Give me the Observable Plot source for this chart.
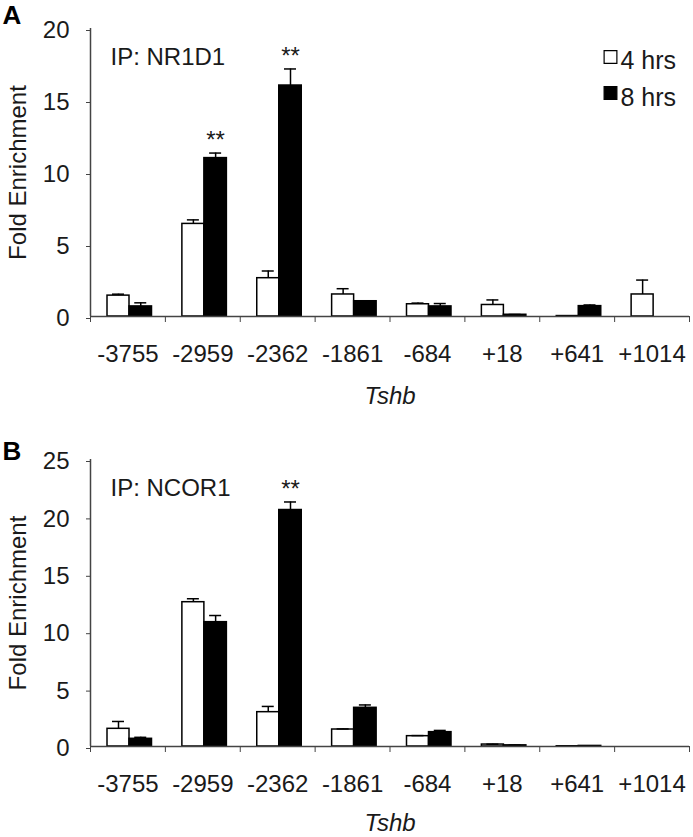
<!DOCTYPE html>
<html><head><meta charset="utf-8">
<script src="https://cdn.jsdelivr.net/npm/d3@7"></script>
<script src="https://cdn.jsdelivr.net/npm/@observablehq/plot@0.6"></script>
<style>
html,body{margin:0;padding:0;background:#fff;}
#chart svg{display:block;}
</style></head><body><div id="chart"></div>
<script>
// Tshb promoter positions
const categories = ["-3755","-2959","-2362","-1861","-684","+18","+641","+1014"];
const seriesNames = ["4 hrs","8 hrs"];
// Panel A: IP NR1D1
const a4 = [1.45, 6.43, 2.66, 1.53, 0.85, 0.80, 0.03, 1.53];
const a4err = [0.10, 0.28, 0.50, 0.40, 0.08, 0.35, 0.00, 1.00];
const a8 = [0.70, 11.0, 16.04, 1.06, 0.70, 0.12, 0.72, 0.00];
const a8err = [0.25, 0.35, 1.15, 0.03, 0.20, 0.02, 0.08, 0.00];
const aSig = ["-2959","-2362"];
const aTicks = [0, 5, 10, 15, 20];
// Panel B: IP NCOR1
const b4 = [1.54, 12.57, 2.99, 1.48, 0.90, 0.17, 0.02, 0.00];
const b4err = [0.64, 0.30, 0.50, 0.05, 0.05, 0.03, 0.00, 0.00];
const b8 = [0.67, 10.83, 20.6, 3.37, 1.25, 0.10, 0.05, 0.00];
const b8err = [0.13, 0.58, 0.70, 0.25, 0.15, 0.02, 0.00, 0.00];
const bSig = ["-2362"];
const bTicks = [0, 5, 10, 15, 20, 25];

const W = 693, ML = 90, MR = 4;
const BW = (W - ML - MR) / categories.length;
const FONT = "'Liberation Sans', Arial, Helvetica, sans-serif";
const INK = "#1a1a1a", AX = "#444";

function panel({letter, ip, v4, e4, v8, e8, sig, ticks, height, marginTop, marginBottom, legend, geneDy}) {
  const rows4 = categories.map((c, i) => ({i, cat: c, v: v4[i], e: e4[i]}));
  const rows8 = categories.map((c, i) => ({i, cat: c, v: v8[i], e: e8[i]}));
  const sigRows = rows8.filter(d => sig.includes(d.cat));
  const wL = 17, wR = 39, bL = 39, bR = 61.5, cap = 6;
  const wC = (wL + wR) / 2, bC = (bL + bR) / 2;
  const marks = [
    Plot.rectY(rows4, {x1: "i", x2: d => d.i + 1, y: "v", fill: "white", stroke: "black", strokeWidth: 1.5, insetLeft: wL, insetRight: BW - wR}),
    Plot.rectY(rows8, {x1: "i", x2: d => d.i + 1, y: "v", fill: "black", stroke: "black", strokeWidth: 1.5, insetLeft: bL, insetRight: BW - bR}),
    Plot.ruleX(rows4.filter(d => d.e > 0), {x: "i", y1: "v", y2: d => d.v + d.e, dx: wC, stroke: "black", strokeWidth: 1.5}),
    Plot.ruleY(rows4.filter(d => d.e > 0), {x1: "i", x2: d => d.i + 1, y: d => d.v + d.e, insetLeft: wC - cap, insetRight: BW - wC - cap, stroke: "black", strokeWidth: 1.5}),
    Plot.ruleX(rows8.filter(d => d.e > 0), {x: "i", y1: "v", y2: d => d.v + d.e, dx: bC, stroke: "black", strokeWidth: 1.5}),
    Plot.ruleY(rows8.filter(d => d.e > 0), {x1: "i", x2: d => d.i + 1, y: d => d.v + d.e, insetLeft: bC - cap, insetRight: BW - bC - cap, stroke: "black", strokeWidth: 1.5}),
    Plot.text(sigRows, {x: "i", y: d => d.v + d.e, dx: bC, dy: -5, text: () => "**", lineAnchor: "bottom", fontSize: 24, fill: INK}),
    Plot.ruleX([0], {stroke: AX, strokeWidth: 1.5}),
    Plot.ruleY([0], {stroke: AX, strokeWidth: 1.5}),
    Plot.axisY({ticks, tickSize: 4, tickPadding: 17, label: null, fontSize: 24, stroke: AX, fill: INK, dy: 2}),
    Plot.axisX({ticks: d3.range(categories.length + 1), tickSize: 6, tickFormat: () => "", label: null, stroke: AX}),
    Plot.axisX({ticks: d3.range(categories.length).map(i => i + 0.5), tickFormat: v => categories[Math.floor(v)], tickSize: 0, tickPadding: 28, label: null, fontSize: 24, fill: INK}),
    Plot.text(["Fold Enrichment"], {frameAnchor: "left", rotate: -90, dx: -72, lineAnchor: "middle", textAnchor: "middle", fontSize: 24, fill: INK}),
    Plot.text(["Tshb"], {frameAnchor: "bottom", dy: geneDy, lineAnchor: "bottom", textAnchor: "middle", fontSize: 24, fontStyle: "italic", fill: INK}),
    Plot.text([letter], {frameAnchor: "top-left", dx: 2 - ML, dy: letter === "A" ? -23 : -18, lineAnchor: "top", textAnchor: "start", fontSize: 26, fontWeight: "bold", fill: "black"}),
    Plot.text([ip], {frameAnchor: "top-left", dx: 20, dy: 36, lineAnchor: "bottom", textAnchor: "start", fontSize: 24, fill: INK})
  ];
  if (legend) {
    marks.push(
      Plot.dot([seriesNames[0]], {frameAnchor: "top-left", dx: 520, dy: 28.5, symbol: "square", r: 7.2, fill: "white", stroke: "black", strokeWidth: 1.2}),
      Plot.dot([seriesNames[1]], {frameAnchor: "top-left", dx: 520, dy: 64.5, symbol: "square", r: 7.2, fill: "black", stroke: "black", strokeWidth: 1.2}),
      Plot.text([seriesNames[0]], {frameAnchor: "top-left", dx: 530, dy: 40, lineAnchor: "bottom", textAnchor: "start", fontSize: 25, fill: INK}),
      Plot.text([seriesNames[1]], {frameAnchor: "top-left", dx: 530, dy: 77, lineAnchor: "bottom", textAnchor: "start", fontSize: 25, fill: INK})
    );
  }
  return Plot.plot({
    width: W, height, marginLeft: ML, marginRight: MR, marginTop, marginBottom,
    style: {fontFamily: FONT, fontSize: "24px", background: "white", color: INK},
    x: {type: "linear", domain: [0, categories.length]},
    y: {domain: [0, ticks[ticks.length - 1]]},
    marks
  });
}

const chart = document.getElementById("chart");
chart.append(panel({letter: "A", ip: "IP: NR1D1", v4: a4, e4: a4err, v8: a8, e8: a8err, sig: aSig, ticks: aTicks, height: 418, marginTop: 28, marginBottom: 102, legend: true, geneDy: 87}));
chart.append(panel({letter: "B", ip: "IP: NCOR1", v4: b4, e4: b4err, v8: b8, e8: b8err, sig: bSig, ticks: bTicks, height: 419, marginTop: 41, marginBottom: 91, legend: false, geneDy: 84}));
</script></body></html>
